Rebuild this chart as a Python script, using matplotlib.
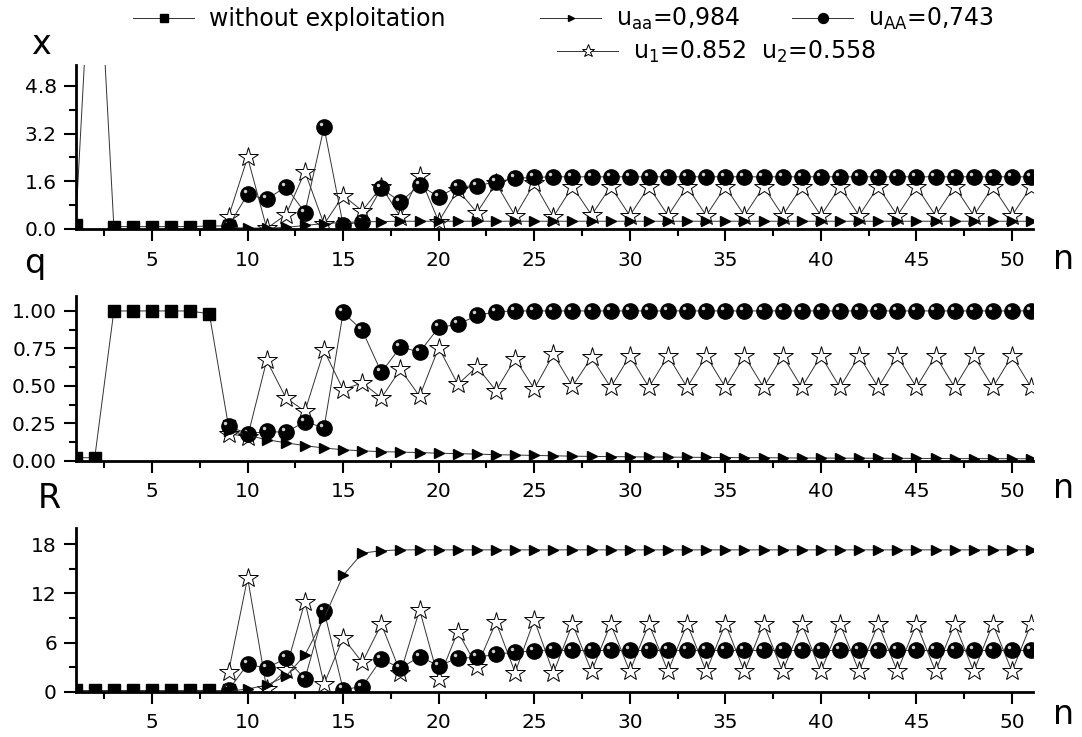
import numpy as np
import matplotlib
matplotlib.use('Agg')
import matplotlib.pyplot as plt
from matplotlib.lines import Line2D
from matplotlib.ticker import MultipleLocator, FormatStrFormatter
from matplotlib.transforms import ScaledTranslation

plt.rcParams['font.family'] = ['DejaVu Sans']
plt.rcParams['mathtext.fontset'] = 'dejavusans'

# generations
n_free = np.arange(1, 10)     # without exploitation
n_exp = np.arange(9, 52)      # exploited populations

# without exploitation
sq_x = [0.13, 12.0, 0.08, 0.08, 0.08, 0.08, 0.08, 0.10, 0.10]
sq_q = [0.02, 0.02, 1.00, 1.00, 1.00, 1.00, 1.00, 0.98, 0.23]
sq_R = [0.2, 0.2, 0.2, 0.2, 0.2, 0.2, 0.2, 0.2, 0.2]

# u_aa = 0,984
tri_x = [0.05, 0.03, 0.03, 0.05, 0.12, 0.18, 0.22, 0.24, 0.25, 0.26,
         0.26, 0.26, 0.26, 0.26, 0.26, 0.26, 0.26, 0.26, 0.26, 0.26,
         0.26, 0.26, 0.26, 0.26, 0.26, 0.26, 0.26, 0.26, 0.26, 0.26,
         0.26, 0.26, 0.26, 0.26, 0.26, 0.26, 0.26, 0.26, 0.26, 0.26,
         0.26, 0.26, 0.26]
tri_q = [0.20, 0.17, 0.14, 0.12, 0.10, 0.085, 0.073, 0.066, 0.060, 0.058,
         0.054, 0.050, 0.047, 0.044, 0.040, 0.038, 0.035, 0.033, 0.030, 0.029,
         0.027, 0.026, 0.025, 0.024, 0.023, 0.022, 0.021, 0.020, 0.020, 0.019,
         0.018, 0.018, 0.017, 0.017, 0.016, 0.016, 0.015, 0.015, 0.014, 0.014,
         0.014, 0.013, 0.013]
tri_R = [0.10, 0.35, 0.85, 1.9, 4.5, 9.0, 14.2, 16.9, 17.2, 17.3,
         17.3, 17.3, 17.3, 17.3, 17.3, 17.3, 17.3, 17.3, 17.3, 17.3,
         17.3, 17.3, 17.3, 17.3, 17.3, 17.3, 17.3, 17.3, 17.3, 17.3,
         17.3, 17.3, 17.3, 17.3, 17.3, 17.3, 17.3, 17.3, 17.3, 17.3,
         17.3, 17.3, 17.3]

# u_AA = 0,743
cir_x = [0.10, 1.16, 0.99, 1.42, 0.55, 3.41, 0.13, 0.25, 1.36, 0.91,
         1.47, 1.08, 1.42, 1.45, 1.58, 1.70, 1.73, 1.75, 1.75, 1.75,
         1.75, 1.75, 1.75, 1.75, 1.75, 1.75, 1.75, 1.75, 1.75, 1.75,
         1.75, 1.75, 1.75, 1.75, 1.75, 1.75, 1.75, 1.75, 1.75, 1.75,
         1.75, 1.75, 1.75]
cir_q = [0.23, 0.18, 0.195, 0.19, 0.26, 0.22, 0.99, 0.87, 0.59, 0.76,
         0.725, 0.89, 0.91, 0.97, 0.995, 1.0, 1.0, 1.0, 1.0, 1.0,
         1.0, 1.0, 1.0, 1.0, 1.0, 1.0, 1.0, 1.0, 1.0, 1.0,
         1.0, 1.0, 1.0, 1.0, 1.0, 1.0, 1.0, 1.0, 1.0, 1.0,
         1.0, 1.0, 1.0]
cir_R = [0.24, 3.37, 2.9, 4.1, 1.6, 9.9, 0.3, 0.65, 4.0, 2.9,
         4.3, 3.2, 4.1, 4.2, 4.6, 4.84, 5.0, 5.05, 5.05, 5.05,
         5.05, 5.05, 5.05, 5.05, 5.05, 5.05, 5.05, 5.05, 5.05, 5.05,
         5.05, 5.05, 5.05, 5.05, 5.05, 5.05, 5.05, 5.05, 5.05, 5.05,
         5.05, 5.05, 5.05]

# u1 = 0.852, u2 = 0.558
star_x = [0.41, 2.40, 0.02, 0.47, 1.92, 0.16, 1.12, 0.61, 1.42, 0.41,
          1.78, 0.25, 1.31, 0.55, 1.53, 0.44, 1.53, 0.41, 1.42, 0.47,
          1.42, 0.45, 1.42, 0.45, 1.42, 0.45, 1.42, 0.45, 1.42, 0.45,
          1.42, 0.45, 1.42, 0.45, 1.42, 0.45, 1.42, 0.45, 1.42, 0.45,
          1.42, 0.45, 1.42]
star_q = [0.18, 0.16, 0.67, 0.42, 0.33, 0.736, 0.475, 0.52, 0.42, 0.61,
          0.43, 0.755, 0.51, 0.627, 0.468, 0.68, 0.48, 0.71, 0.497, 0.69,
          0.49, 0.70, 0.49, 0.70, 0.49, 0.70, 0.49, 0.70, 0.49, 0.70,
          0.49, 0.70, 0.49, 0.70, 0.49, 0.70, 0.49, 0.70, 0.49, 0.70,
          0.49, 0.70, 0.49]
star_R = [2.4, 13.9, 0.37, 2.7, 11.0, 0.98, 6.6, 3.6, 8.25, 2.36,
          10.0, 1.55, 7.35, 3.1, 8.5, 2.36, 8.8, 2.3, 8.3, 2.5,
          8.3, 2.5, 8.3, 2.5, 8.3, 2.5, 8.3, 2.5, 8.3, 2.5,
          8.3, 2.5, 8.3, 2.5, 8.3, 2.5, 8.3, 2.5, 8.3, 2.5,
          8.3, 2.5, 8.3]

line_kw = dict(color='0.2', lw=0.7)
sq_kw = dict(marker='s', ms=8, mfc='black', mec='black', **line_kw)
tri_kw = dict(marker='>', ms=7.5, mfc='black', mec='black', **line_kw)
cir_kw = dict(marker='o', ms=11, mfc='black', mec='black', **line_kw)
star_kw = dict(marker='*', ms=15, mfc='white', mec='black', mew=0.7, **line_kw)

fig = plt.figure(figsize=(10.82, 7.37), dpi=100)

left, width = 0.0699, 0.8848
panels = [
    ([left, 0.6893, width, 0.2225], sq_x, tri_x, cir_x, star_x, (0, 5.5), 1.6, 0.8, '%.1f'),
    ([left, 0.3749, width, 0.2235], sq_q, tri_q, cir_q, star_q, (0, 1.1), 0.25, 0.125, '%.2f'),
    ([left, 0.0611, width, 0.2229], sq_R, tri_R, cir_R, star_R, (0, 20), 6, 3, '%d'),
]

for rect, s_sq, s_tri, s_cir, s_star, ylim, major, minor, fmt in panels:
    ax = fig.add_axes(rect)
    ax.plot(n_free, s_sq, **sq_kw)
    ax.plot(n_exp, s_star, **star_kw)
    ax.plot(n_exp, s_cir, **cir_kw)
    # small highlight on the balls
    hl = ax.transData + ScaledTranslation(-2.2 / 72, 2.2 / 72, fig.dpi_scale_trans)
    ax.plot(n_exp, s_cir, ls='none', marker='o', ms=2.5, mfc='#cfcfcf', mec='none',
            transform=hl)
    ax.plot(n_exp, s_tri, **tri_kw)

    ax.set_xlim(1, 51.1)
    ax.set_ylim(*ylim)
    ax.xaxis.set_major_locator(MultipleLocator(5))
    ax.xaxis.set_minor_locator(MultipleLocator(2.5))
    ax.yaxis.set_major_locator(MultipleLocator(major))
    ax.yaxis.set_minor_locator(MultipleLocator(minor))
    ax.yaxis.set_major_formatter(FormatStrFormatter(fmt))
    ax.set_xticks([5, 10, 15, 20, 25, 30, 35, 40, 45, 50])

    for side in ['top', 'right']:
        ax.spines[side].set_visible(False)
    for side in ['left', 'bottom']:
        ax.spines[side].set_linewidth(2)
    ax.tick_params(which='major', direction='out', length=8.5, width=1.5,
                   labelsize=14.5)
    ax.tick_params(axis='x', which='major', pad=7)
    ax.tick_params(axis='y', which='major', pad=5)
    ax.tick_params(which='minor', direction='out', length=5, width=1.5)

# axis letters
fig.text(41 / 1082, 1 - 44 / 737, 'x', fontsize=24, ha='center', va='center')
fig.text(35 / 1082, 1 - 263 / 737, 'q', fontsize=24, ha='center', va='center')
fig.text(49 / 1082, 1 - 498 / 737, 'R', fontsize=24, ha='center', va='center')
for ypix in [259, 488, 715]:
    fig.text(1064 / 1082, 1 - ypix / 737, 'n', fontsize=24, ha='center', va='center')

# legends
entries = [
    (sq_kw, 'without exploitation', 133, 19),
    (tri_kw, r'u$_{\mathregular{aa}}$=0,984', 540, 19),
    (cir_kw, r'u$_{\mathregular{AA}}$=0,743', 792, 19),
    (star_kw, r'u$_{\mathregular{1}}$=0.852  u$_{\mathregular{2}}$=0.558', 557, 52),
]
for kw, label, xp, yp in entries:
    h = Line2D([], [], **kw)
    fig.legend(handles=[h], labels=[label], loc='center left',
               bbox_to_anchor=(xp / 1082, 1 - yp / 737), frameon=False,
               fontsize=17, handlelength=2.6, handletextpad=0.6, markerscale=0.65,
               borderpad=0, borderaxespad=0, numpoints=1)

fig.savefig('out.png', dpi=100)
